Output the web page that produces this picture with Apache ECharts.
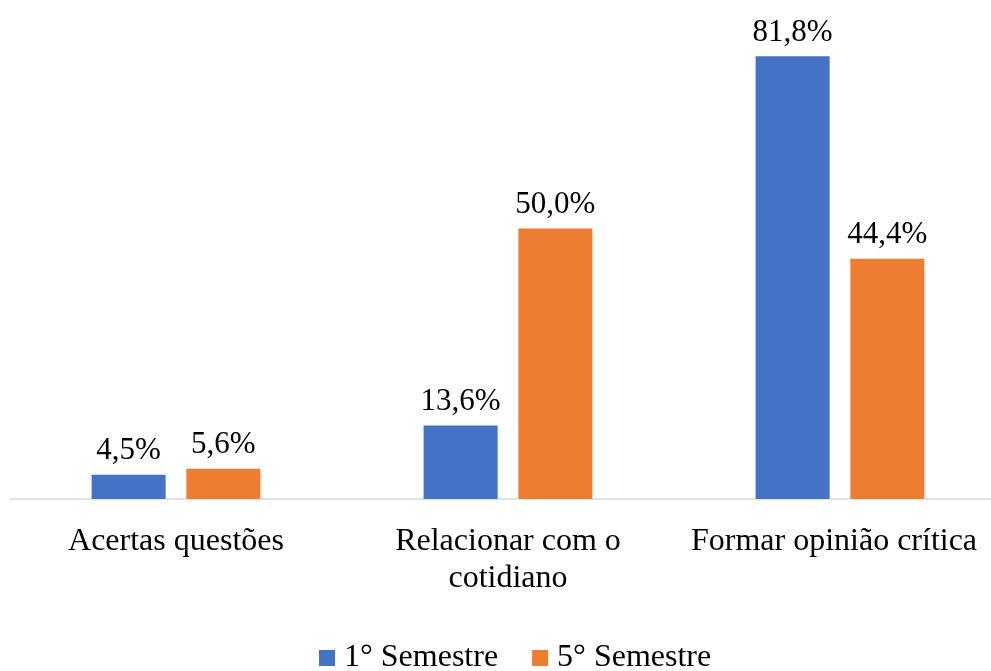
<!DOCTYPE html>
<html>
<head>
<meta charset="utf-8">
<script src="https://cdn.jsdelivr.net/npm/echarts@6/dist/echarts.min.js"></script>
<style>
  html, body { margin: 0; padding: 0; background: #fff; }
  #chart { width: 991px; height: 671px; }
</style>
</head>
<body>
<div id="chart"></div>
<script>
const categories = ['Acertas questões', 'Relacionar com o\ncotidiano', 'Formar opinião crítica'];
const seriesNames = ['1° Semestre', '5° Semestre'];
const semestre1 = [4.5, 13.6, 81.8];
const semestre5 = [5.6, 50.0, 44.4];

const font = '"Liberation Serif", "Times New Roman", serif';
const fmt = (p) => p.value.toFixed(1).replace('.', ',') + '%';

const chart = echarts.init(document.getElementById('chart'));
chart.setOption({
  animation: false,
  textStyle: { fontFamily: font },
  // plot area runs a bit past the right edge, like the cropped original
  grid: { left: 10, width: 996, top: 12, bottom: 172, outerBoundsMode: 'none', containLabel: false },
  legend: {
    left: 319,
    bottom: -3,
    padding: 0,
    itemWidth: 16,
    itemHeight: 16,
    itemGap: 34,
    icon: 'rect',
    textStyle: { fontFamily: font, fontSize: 32, color: '#000', padding: [0, 0, 0, 4] },
    data: seriesNames
  },
  xAxis: {
    type: 'category',
    // last label nudged left so it stays inside the picture
    data: categories.map((c, i) => (i === categories.length - 1 ? { value: c, textStyle: { padding: [0, 12, 0, 0] } } : c)),
    axisLine: { lineStyle: { color: '#d9d9d9', width: 1.5 } },
    axisTick: { show: false },
    axisLabel: { fontFamily: font, fontSize: 32, color: '#000', margin: 24, lineHeight: 37, interval: 0, hideOverlap: false }
  },
  yAxis: {
    type: 'value',
    min: 0,
    max: 90,
    show: false,
    splitLine: { show: false }
  },
  series: [
    {
      name: seriesNames[0],
      type: 'bar',
      data: semestre1,
      barWidth: '22.3%',
      barGap: '28%',
      itemStyle: { color: '#4472C4' },
      label: { show: true, position: 'top', distance: 8, formatter: fmt, fontFamily: font, fontSize: 31, color: '#000' }
    },
    {
      name: seriesNames[1],
      type: 'bar',
      data: semestre5,
      barWidth: '22.3%',
      itemStyle: { color: '#ED7D31' },
      label: { show: true, position: 'top', distance: 8, formatter: fmt, fontFamily: font, fontSize: 31, color: '#000' }
    }
  ]
});
</script>
</body>
</html>
